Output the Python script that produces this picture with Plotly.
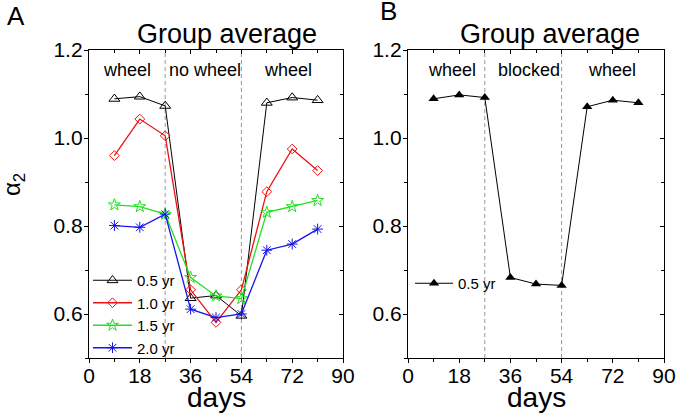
import plotly.graph_objects as go

# ---------------- data ----------------
days = [9, 18, 27, 36, 45, 54, 63, 72, 81]

a_05yr = [1.089, 1.094, 1.073, 0.636, 0.642, 0.596, 1.080, 1.092, 1.086]
a_10yr = [0.960, 1.043, 1.005, 0.655, 0.581, 0.655, 0.878, 0.975, 0.926]
a_15yr = [0.848, 0.844, 0.827, 0.683, 0.641, 0.635, 0.831, 0.844, 0.858]
a_20yr = [0.801, 0.797, 0.827, 0.611, 0.592, 0.600, 0.745, 0.759, 0.793]

b_05yr = [1.089, 1.098, 1.092, 0.683, 0.668, 0.665, 1.071, 1.086, 1.080]

phase_bounds = [27, 54]
phase_labels_a = ["wheel", "no wheel", "wheel"]
phase_labels_b = ["wheel", "blocked", "wheel"]
phase_label_days_a = [13.6, 41.0, 70.4]
phase_label_days_b = [15.5, 42.6, 71.6]

x_ticks = [0, 18, 36, 54, 72, 90]
y_ticks = [0.6, 0.8, 1.0, 1.2]
y_ticktext = ["0.6", "0.8", "1.0", "1.2"]

FONT = "Liberation Sans, Arial, sans-serif"
W, H = 677, 417
ML, MT = 89, 50
MR, MB = W - 664, H - 358
PW, PH = W - ML - MR, H - MT - MB


def px_x(sx):
    """screen pixel x -> paper x"""
    return (sx - ML) / PW


def px_y(sy):
    """screen pixel y -> paper y"""
    return ((H - MB) - sy) / PH


fig = go.Figure()

series_a = [
    ("0.5 yr", a_05yr, "black", "triangle-up-open", 9.5, 1.0),
    ("1.0 yr", a_10yr, "#ee1111", "diamond-open", 7.5, 1.3),
    ("1.5 yr", a_15yr, "#22e022", "star-open", 9, 1.3),
    ("2.0 yr", a_20yr, "#1515e8", "asterisk-open", 9, 1.3),
]
for name, vals, col, sym, sz, lw in series_a:
    fig.add_trace(go.Scatter(
        x=days, y=vals, name=name, mode="lines+markers",
        line=dict(color=col, width=lw),
        marker=dict(symbol=sym, size=sz, color=col, line=dict(color=col, width=1)),
        xaxis="x", yaxis="y", legend="legend",
    ))

fig.add_trace(go.Scatter(
    x=days, y=b_05yr, name="0.5 yr", mode="lines+markers",
    line=dict(color="black", width=1.0),
    marker=dict(symbol="triangle-up", size=9, color="black"),
    xaxis="x2", yaxis="y2", legend="legend2",
))

# empty traces so the mirrored (top / right) frame axes get drawn
for xa, ya in (("x3", "y"), ("x", "y3"), ("x4", "y2"), ("x2", "y4")):
    fig.add_trace(go.Scatter(x=[], y=[], xaxis=xa, yaxis=ya, showlegend=False,
                             hoverinfo="skip"))

xdomA = [px_x(89), px_x(343)]
xdomB = [px_x(408), px_x(664)]
ydom = [0, 1]

tickfont = dict(family=FONT, size=21, color="black")


def xax(domain, anchor, **kw):
    d = dict(domain=domain, anchor=anchor, range=[0, 90], tickvals=x_ticks,
             showline=True, linecolor="black", linewidth=1.3, automargin=False,
             showgrid=False, zeroline=False, tickfont=tickfont,
             tickcolor="black", tickwidth=1.2)
    d.update(kw)
    return d


def yax(domain, anchor, **kw):
    d = dict(domain=domain, anchor=anchor, range=[0.5, 1.2], tickvals=y_ticks,
             ticktext=y_ticktext, showline=True, linecolor="black", linewidth=1.3,
             automargin=False, showgrid=False, zeroline=False, tickfont=tickfont,
             tickcolor="black", tickwidth=1.2)
    d.update(kw)
    return d


minor_x_out = dict(dtick=9, tick0=0, ticks="outside", ticklen=2.5, tickcolor="black", tickwidth=1)
minor_x_in = dict(dtick=9, tick0=0, ticks="inside", ticklen=2.5, tickcolor="black", tickwidth=1)
minor_y_out = dict(dtick=0.1, tick0=0.5, ticks="outside", ticklen=2.5, tickcolor="black", tickwidth=1)
minor_y_in = dict(dtick=0.1, tick0=0.5, ticks="inside", ticklen=2.5, tickcolor="black", tickwidth=1)

fig.update_layout(
    template="none",
    width=W, height=H, autosize=False,
    margin=dict(l=ML, r=MR, t=MT, b=MB),
    paper_bgcolor="white", plot_bgcolor="white",
    font=dict(family=FONT, color="black"),
    xaxis=xax(xdomA, "y", ticks="outside", ticklen=4, minor=minor_x_out, ticklabelstandoff=-5),
    yaxis=yax(ydom, "x", ticks="outside", ticklen=4, minor=minor_y_out, ticklabelstandoff=-3),
    xaxis2=xax(xdomB, "y2", ticks="outside", ticklen=4, minor=minor_x_out, ticklabelstandoff=-5),
    yaxis2=yax(ydom, "x2", ticks="outside", ticklen=4, minor=minor_y_out, ticklabelstandoff=-3),
    xaxis3=xax(xdomA, "y", overlaying="x", side="top", ticks="inside", ticklen=4,
               showticklabels=False, minor=minor_x_in),
    yaxis3=yax(ydom, "x", overlaying="y", side="right", ticks="inside", ticklen=4,
               showticklabels=False, minor=minor_y_in),
    xaxis4=xax(xdomB, "y2", overlaying="x2", side="top", ticks="inside", ticklen=4,
               showticklabels=False, minor=minor_x_in),
    yaxis4=yax(ydom, "x2", overlaying="y2", side="right", ticks="inside", ticklen=4,
               showticklabels=False, minor=minor_y_in),
    legend=dict(x=px_x(88), xanchor="left", y=px_y(264), yanchor="top", itemwidth=39,
                bgcolor="rgba(0,0,0,0)", font=dict(family=FONT, size=15, color="black"),
                tracegroupgap=0),
    legend2=dict(x=px_x(410), xanchor="left", y=px_y(267), yanchor="top", itemwidth=38,
                 bgcolor="rgba(0,0,0,0)", font=dict(family=FONT, size=15, color="black")),
    showlegend=True,
)

# phase boundaries (dashed vertical lines)
for xr, yr in (("x", "y domain"), ("x2", "y2 domain")):
    for b in phase_bounds:
        fig.add_shape(type="line", xref=xr, yref=yr, x0=b, x1=b, y0=0, y1=1,
                      line=dict(color="#999999", width=1, dash="4px,3px"), layer="below")

# phase labels
for xr, yr, labels, pos in (("x", "y", phase_labels_a, phase_label_days_a),
                            ("x2", "y2", phase_labels_b, phase_label_days_b)):
    for lab, d in zip(labels, pos):
        fig.add_annotation(x=d, y=1.155, xref=xr, yref=yr, text=lab, showarrow=False,
                           xanchor="center", yanchor="middle",
                           font=dict(family=FONT, size=18, color="black"))


def text_at(sx, sy, txt, size, angle=0):
    fig.add_annotation(x=px_x(sx), y=px_y(sy), xref="paper", yref="paper", text=txt,
                       showarrow=False, xanchor="center", yanchor="middle",
                       textangle=angle, font=dict(family=FONT, size=size, color="black"))


# panel titles and letters
text_at(227, 34, "Group average", 27)
text_at(550, 34, "Group average", 27)
text_at(15.5, 16.5, "A", 26)
text_at(388, 11, "B", 26)

# axis titles
text_at(216, 397, "days", 28)
text_at(536, 397, "days", 28)
text_at(13, 185, "α<sub>2</sub>", 24, angle=-90)

# the page's default body margin would shift the figure; remove it
fig.write_html("out.html", config={"displayModeBar": False},
               post_script="document.body.style.margin='0';")
